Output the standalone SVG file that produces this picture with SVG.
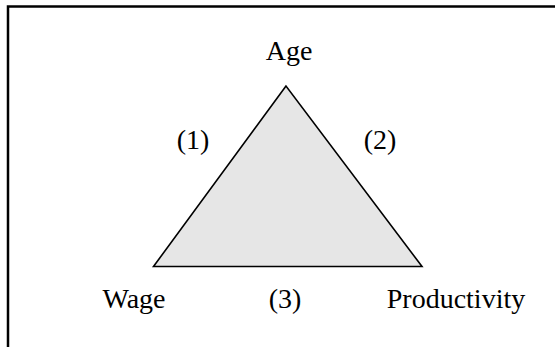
<svg xmlns="http://www.w3.org/2000/svg" width="555" height="347" viewBox="0 0 555 347">
<style>
.t{font-family:"Liberation Serif","Times New Roman",serif;font-size:28px;fill:#000;text-anchor:middle}
.frame{fill:none;stroke:#000;stroke-width:2.5}
.tri{fill:#e6e6e6;stroke:#000;stroke-width:1.6;stroke-linejoin:miter}
</style>
<rect width="555" height="347" fill="#fff"/>
<path class="frame" d="M8 347 V6.5 H555"/>
<g id="triangle">
<polygon class="tri" points="286,86 153.5,266.5 422,266.5"/>
</g>
<g id="connectors">
<text class="t" x="193" y="149">(1)</text>
<text class="t" x="380" y="149">(2)</text>
<text class="t" x="285" y="308">(3)</text>
</g>
<g id="age"><text class="t" x="289" y="60">Age</text></g>
<g id="wage"><text class="t" x="134" y="308">Wage</text></g>
<g id="productivity"><text class="t" x="456" y="308">Productivity</text></g>
</svg>
